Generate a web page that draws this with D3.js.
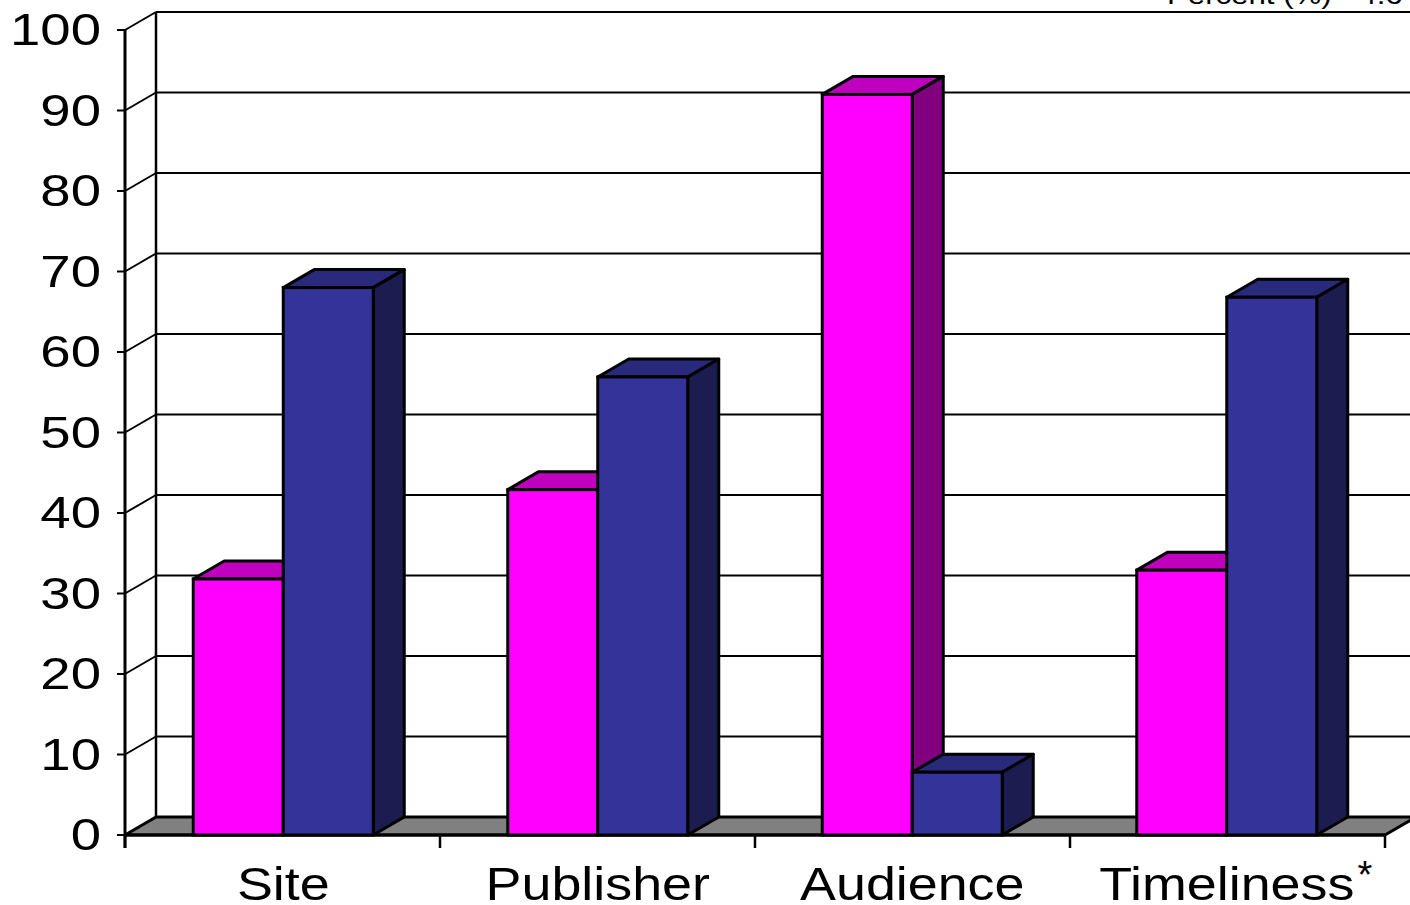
<!DOCTYPE html>
<html><head><meta charset="utf-8">
<script src="https://cdn.jsdelivr.net/npm/d3@7"></script>
<style>html,body{margin:0;padding:0;background:#fff}svg{display:block}text{font-family:"Liberation Sans",Arial,sans-serif;fill:#000}</style>
</head><body><svg id="c" width="1410" height="905"></svg>
<script>
const categories=["Site","Publisher","Audience","Timeliness"];
const seriesA=[31.8,42.9,92,32.9];
const seriesB=[68,56.9,7.8,66.8];
const yTicks=[0,10,20,30,40,50,60,70,80,90,100];
const svg=d3.select("#c");
const x=d3.scaleBand().domain(categories).range([126,1384]);
const xTick=d3.scaleLinear().domain([0,categories.length]).range([125,1385]);
const y=d3.scaleLinear().domain([0,100]).range([835,30]);
const dx=31,dy=-18,barW=90,sx=1.24,base=y(0),left=xTick(0),right=xTick(categories.length);
const line=(a,b,c,e,w=2)=>svg.append("line").attr("x1",a).attr("y1",b).attr("x2",c).attr("y2",e).attr("stroke","#000").attr("stroke-width",w);
const poly=(p,f)=>svg.append("polygon").attr("points",p.map(q=>q.join(",")).join(" ")).attr("fill",f).attr("stroke","#000").attr("stroke-width",3).attr("stroke-linejoin","round");
// header text, cut by the top edge as in the source picture
svg.append("text").attr("transform","translate(1167,4) scale(1.2,1)").attr("font-size",26).text("Percent (%) - 4.6");
// floor
poly([[left,base],[left+dx,base+dy],[right+dx,base+dy],[right,base]],"#808080");
// walls and grid
line(left+dx,y(100)+dy,left+dx,base+dy,2.5);
yTicks.filter(t=>t>0).forEach(t=>line(left+dx,y(t)+dy,1410,y(t)+dy));
yTicks.filter(t=>t>0).forEach(t=>line(left,y(t),left+dx,y(t)+dy));
line(left,y(100),left,848,3);
line(left,base,right,base,3);
// y ticks and labels
yTicks.forEach(t=>{
  line(left-8,y(t),left,y(t),2);
  svg.append("text").attr("transform",`translate(101,${y(t)+15}) scale(${sx},1)`).attr("text-anchor","end").attr("font-size",44).text(t);
});
// x ticks
d3.range(categories.length+1).forEach(i=>line(xTick(i),base,xTick(i),848,2.5));
// bars
function bar(x0,v,front,top,side){
  const t=y(v);
  poly([[x0,t],[x0+dx,t+dy],[x0+barW+dx,t+dy],[x0+barW,t]],top);
  poly([[x0+barW,t],[x0+barW+dx,t+dy],[x0+barW+dx,base+dy],[x0+barW,base]],side);
  svg.append("rect").attr("x",x0).attr("y",t).attr("width",barW).attr("height",base-t).attr("fill",front).attr("stroke","#000").attr("stroke-width",3);
}
categories.forEach((c,i)=>{
  const mid=x(c)+x.bandwidth()/2;
  bar(mid-barW,seriesA[i],"#ff00ff","#bf00bf","#800080");
  bar(mid,seriesB[i],"#333399","#292a7c","#1c1c50");
  svg.append("text").attr("transform",`translate(${mid},900) scale(1.17,1)`).attr("text-anchor","middle").attr("font-size",46).text(c);
});
svg.append("text").attr("x",1365).attr("y",888).attr("text-anchor","middle").attr("font-size",38).text("*");
</script></body></html>
